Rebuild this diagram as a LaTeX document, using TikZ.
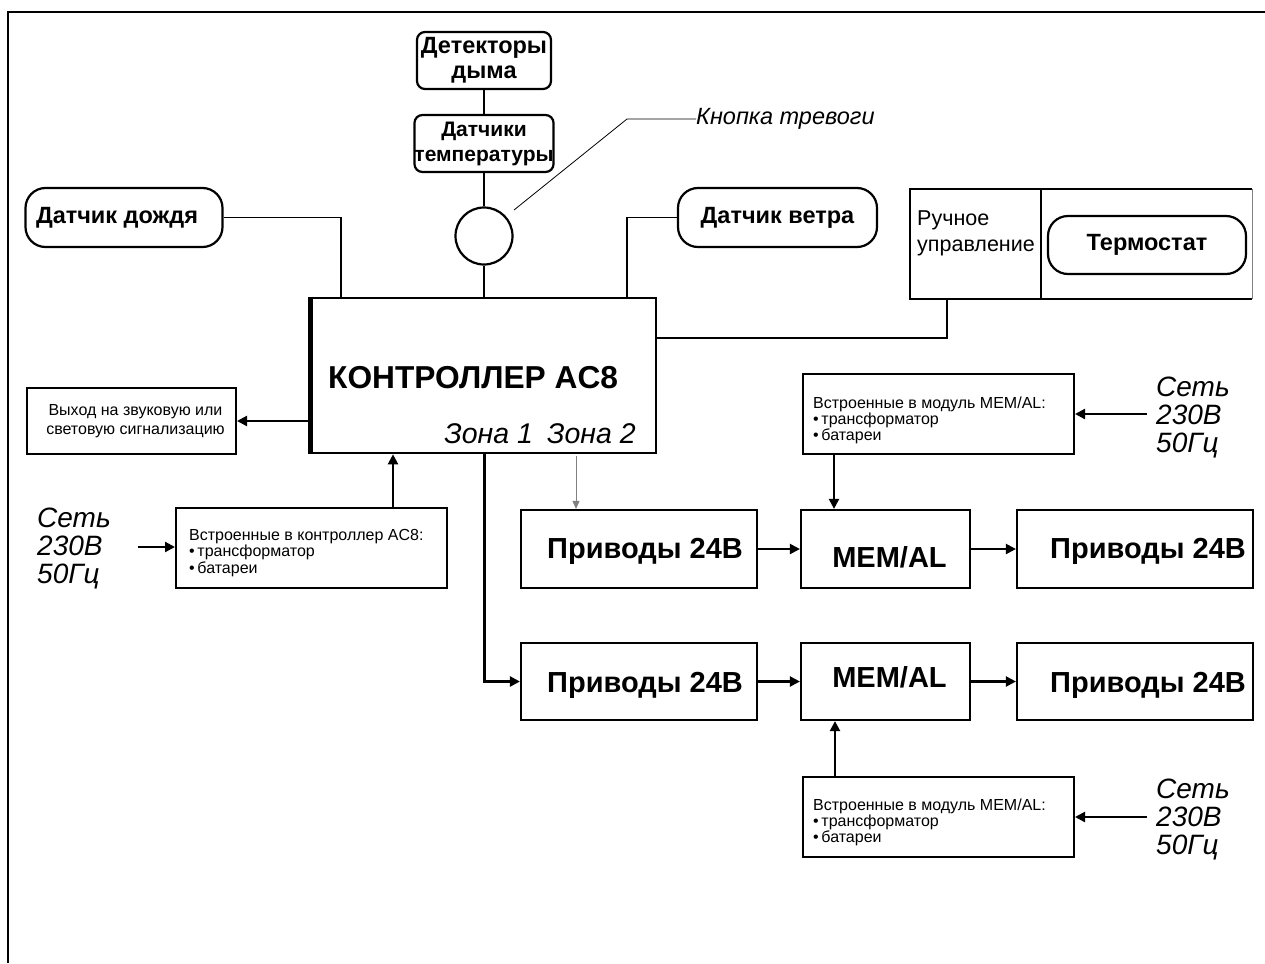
\documentclass[tikz,border=0pt]{standalone}
\usepackage{fontspec}
\setmainfont{Liberation Sans}
\usetikzlibrary{arrows.meta,calc}
\begin{document}
\begin{tikzpicture}[x=1pt,y=-1pt,
  lw/.style={line width=2.2pt},
  conn/.style={line width=1.8pt},
  box/.style={draw, line width=2.2pt, rectangle, inner sep=0pt},
  rbox/.style={box, rounded corners=#1},
  rbox/.default=8pt,
  arr/.style={line width=2.2pt, -{Triangle[length=10pt,width=10pt]}},
  garr/.style={draw=gray, line width=0.6pt, -{Triangle[length=8pt,width=7pt]}, fill=black},
  txt/.style={inner sep=0pt},
  fb/.style={font=\fontsize{#1}{#1}\selectfont\bfseries},
]
\useasboundingbox (0,0) rectangle (1265,963);
% frame
\draw[line width=2.5pt] (8,963) -- (8,12) -- (1265,12);

% sensors
\node[rbox=8pt, minimum width=134, minimum height=57, align=center,
      font=\fontsize{23.5}{25}\selectfont\bfseries] (smoke) at (484,60.5) {Детекторы\\дыма};
\node[rbox=8pt, minimum width=134, minimum height=57, align=center,
      font=\fontsize{21}{25}\selectfont\bfseries] (temp) at (484,143.5) {Датчики\\температуры};
\node[circle, draw, line width=2.2pt, minimum size=57, inner sep=0pt] (btn) at (484,236) {};
\node[rbox=20pt, minimum width=197, minimum height=59] (rain) at (124,217.5) {};
\node[txt, fb=23.5] (raint) at ($(rain)+(-7,0)$) {Датчик дождя};
\node[rbox=20pt, minimum width=199, minimum height=59] (wind) at (777.5,217.5) {};
\node[txt, fb=23.5] (windt) at ($(wind)+(0,0)$) {Датчик ветра};
\node[txt, anchor=west, font=\fontsize{23.5}{23.5}\selectfont\itshape] (knop) at (696,119) {Кнопка тревоги};

% manual / thermostat
\node[minimum width=342, minimum height=110, inner sep=0pt] (manual) at (1081,244) {};
\draw[lw] (manual.north east) -- (manual.north west) -- (manual.south west) -- (manual.south east);
\draw[gray, line width=0.8pt] (manual.north east) -- (manual.south east);
\coordinate (dv) at (1041,244);
\draw[lw] (dv |- manual.north) -- (dv |- manual.south);
\node[txt, anchor=base west, align=left, font=\fontsize{21.5}{26}\selectfont] (mtxt) at (917,251) {Ручное\\управление};
\node[rbox=20pt, minimum width=198, minimum height=58, fb=23.5] (thermo) at (1147,245) {Термостат};

% controller
\node[box, line width=2.6pt, minimum width=344, minimum height=155] (ctrl) at (484,375.5) {};
\draw[line width=4.5pt] (ctrl.north west) -- (ctrl.south west);
\node[txt, anchor=base west, fb=31.7] (ctitle) at (328,388) {КОНТРОЛЛЕР AC8};
\node[txt, anchor=base east, font=\fontsize{28.5}{28.5}\selectfont\itshape] (zones) at (636,443) {Зона 1\enspace Зона 2};

% output box
\node[box, line width=2pt, minimum width=209, minimum height=66] (out) at (131.5,421) {};
\node[txt, align=center, font=\fontsize{16}{19}\selectfont] (outt) at ($(out)+(4,0)$) {Выход на звуковую или\\световую сигнализацию};

% built-in AC8
\node[box, line width=2pt, minimum width=271, minimum height=80] (bi) at (311.5,548) {};
\node[txt, anchor=base west, align=left, font=\fontsize{16}{16.5}\selectfont] (bitxt) at (189,573)
  {Встроенные в контроллер AC8:\\\textbullet\,трансформатор\\\textbullet\,батареи};
\node[txt, anchor=west, align=left, font=\fontsize{28}{28}\selectfont\itshape] (net1) at (37,549) {Сеть\\230В\\50Гц};

% drives row 1
\node[box, minimum width=236, minimum height=78] (pr1) at (639,549) {};
\node[txt, fb=29] (pr1t) at ($(pr1)+(6,2)$) {Приводы 24В};
\node[box, minimum width=169, minimum height=78] (mem1) at (885.5,549) {};
\node[txt, fb=29] (mem1t) at ($(mem1)+(4,8)$) {MEM/AL};
\node[box, minimum width=236, minimum height=78] (pr3) at (1135,549) {};
\node[txt, fb=29] (pr3t) at ($(pr3)+(13,2)$) {Приводы 24В};

% drives row 2
\node[box, minimum width=236, minimum height=77] (pr2) at (639,681.5) {};
\node[txt, fb=29] (pr2t) at ($(pr2)+(6,4)$) {Приводы 24В};
\node[box, minimum width=169, minimum height=77] (mem2) at (885.5,681.5) {};
\node[txt, fb=29] (mem2t) at ($(mem2)+(4,-4)$) {MEM/AL};
\node[box, minimum width=236, minimum height=77] (pr4) at (1135,681.5) {};
\node[txt, fb=29] (pr4t) at ($(pr4)+(13,4)$) {Приводы 24В};

% MEM/AL built-in boxes
\node[box, line width=2pt, minimum width=271, minimum height=80] (mbi1) at (938.5,414) {};
\node[txt, anchor=base west, align=left, font=\fontsize{16}{16}\selectfont] (mbi1t) at (813,440)
  {Встроенные в модуль MEM/AL:\\\textbullet\,трансформатор\\\textbullet\,батареи};
\node[txt, anchor=west, align=left, font=\fontsize{28}{28}\selectfont\itshape] (net2) at (1156,418) {Сеть\\230В\\50Гц};

\node[box, line width=2pt, minimum width=271, minimum height=80] (mbi2) at (938.5,817) {};
\node[txt, anchor=base west, align=left, font=\fontsize{16}{16}\selectfont] (mbi2t) at (813,842)
  {Встроенные в модуль MEM/AL:\\\textbullet\,трансформатор\\\textbullet\,батареи};
\node[txt, anchor=west, align=left, font=\fontsize{28}{28}\selectfont\itshape] (net3) at (1156,820) {Сеть\\230В\\50Гц};

% coordinates for connector ends
\coordinate (c1) at (341,298);
\coordinate (c2) at (627,298);
\coordinate (k0) at (514,210);
\coordinate (k1) at (627,119);
\coordinate (m2) at (947,338);
\coordinate (b1) at (393,508);
\coordinate (s1) at (138,547);
\coordinate (z2) at (576,456);
\coordinate (t1) at (834,455);
\coordinate (s2) at (1147,414);
\coordinate (t2) at (835,777);
\coordinate (s3) at (1147,817);

% connectors
\draw[conn] (smoke.south) -- (temp.north);
\draw[conn] (temp.south) -- (btn.north);
\draw[conn] (btn.south) -- (btn.south |- ctrl.north);
\draw[conn] (rain.east) -| (c1);
\draw[conn] (wind.west) -| (c2);
\draw[line width=0.8pt] (k0) -- (k1) -- (knop.west);
\draw[conn] (ctrl.east |- m2) -- (m2) -- (m2 |- manual.south);
\draw[arr] (ctrl.west |- out.east) -- (out.east);
\draw[arr] (b1) -- (b1 |- ctrl.south);
\draw[arr] (s1) -- (s1 -| bi.west);
\draw[line width=3pt, -{Triangle[length=10pt,width=10pt]}] (ctrl.south) |- (pr2.west);
\draw[garr] (z2) -- (z2 |- pr1.north);
\draw[arr] (pr1.east) -- (mem1.west);
\draw[arr] (mem1.east) -- (pr3.west);
\draw[arr] (pr2.east) -- (mem2.west);
\draw[arr] (mem2.east) -- (pr4.west);
\draw[arr] (t1) -- (t1 |- mem1.north);
\draw[arr] (s2) -- (s2 -| mbi1.east);
\draw[arr] (t2) -- (t2 |- mem2.south);
\draw[arr] (s3) -- (s3 -| mbi2.east);
\end{tikzpicture}
\end{document}
